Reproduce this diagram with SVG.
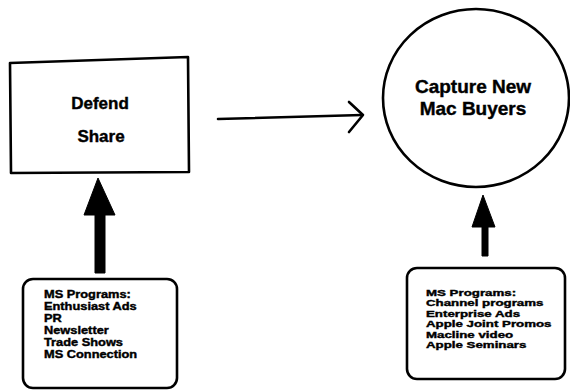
<svg xmlns="http://www.w3.org/2000/svg" width="570" height="391" viewBox="0 0 570 391">
<style>
.shape{fill:none;stroke:#000;stroke-width:2.6;stroke-linejoin:round;stroke-linecap:round}
.title{font-family:"Liberation Sans",Arial,sans-serif;font-weight:bold;fill:#000;stroke:#000;stroke-width:0.4;text-anchor:middle}
.list{font-family:"Liberation Sans",Arial,sans-serif;font-weight:bold;fill:#000;stroke:#000;stroke-width:0.4}
.thick{fill:#000;stroke:#000;stroke-width:1;stroke-linejoin:round}
</style>
<rect width="570" height="391" fill="#fff"/>
<g id="defend-share">
<path class="shape" d="M10,63 L188,57 L189,172 L11,173 Z"/>
<text class="title" x="100" y="109" font-size="17">Defend</text>
<text class="title" x="101" y="142" font-size="17">Share</text>
</g>
<g id="capture-new-mac-buyers">
<ellipse class="shape" cx="476" cy="98" rx="93" ry="89"/>
<text class="title" x="473" y="93" font-size="19">Capture New</text>
<text class="title" x="473" y="115" font-size="19">Mac Buyers</text>
</g>
<g id="ms-programs-left">
<rect class="shape" x="23" y="279" width="154" height="109" rx="10"/>
<g class="list" font-size="10.5" transform="translate(44,0) scale(1.22,1)">
<text x="0" y="298">MS Programs:</text>
<text x="0" y="310">Enthusiast Ads</text>
<text x="0" y="322">PR</text>
<text x="0" y="334">Newsletter</text>
<text x="0" y="346">Trade Shows</text>
<text x="0" y="358">MS Connection</text>
</g>
</g>
<g id="ms-programs-right">
<rect class="shape" x="407" y="268" width="158" height="111" rx="10"/>
<g class="list" font-size="9.5" transform="translate(426,0) scale(1.4,1)">
<text x="0" y="296">MS Programs:</text>
<text x="0" y="306.5">Channel programs</text>
<text x="0" y="317">Enterprise Ads</text>
<text x="0" y="327.5">Apple Joint Promos</text>
<text x="0" y="338">Macline video</text>
<text x="0" y="348.5">Apple Seminars</text>
</g>
</g>
<g id="connectors">
<path class="shape" d="M218,119 L362,115" stroke-width="3"/>
<path class="shape" d="M349,102 L363,115 L349,132" stroke-width="3"/>
<path class="thick" d="M98,178 L115,215 L105,215 L105,273 L95,273 L95,215 L84,215 Z"/>
<path class="thick" d="M483,195 L495,227 L488,227 L488,256 L482,256 L482,227 L472,227 Z"/>
</g>
</svg>
